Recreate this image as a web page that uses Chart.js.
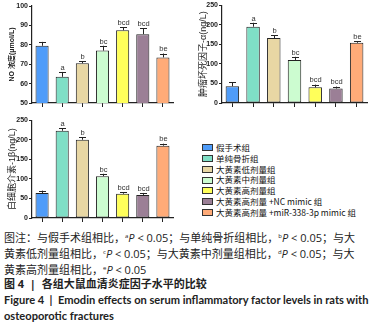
<!DOCTYPE html>
<html>
<head>
<meta charset="utf-8">
<script src="https://cdn.jsdelivr.net/npm/chart.js@4"></script>
<style>
  body { margin: 0; background: #fff; width: 378px; height: 329px; position: relative; overflow: hidden; }
  canvas { position: absolute; }
  #legend { position: absolute; left: 202px; top: 142px; font-family: "Noto Sans CJK SC", sans-serif; font-size: 8.5px; color: #111; }
  #legend div { height: 10.8px; line-height: 10.8px; white-space: nowrap; }
  #legend span.sw { display: inline-block; width: 9px; height: 5px; border: 1px solid #333; margin-right: 3px; vertical-align: middle; position: relative; top: -1px; }
  #caption { position: absolute; left: 4px; top: 228px; font-family: "Open Sans", "Noto Sans CJK SC", sans-serif; font-size: 11px; color: #222; }
  #caption div { height: 16px; line-height: 16px; white-space: nowrap; }
  #caption sup { font-size: 6px; vertical-align: 4px; }
  #caption .b { font-weight: bold; }
  #caption .en { font-family: Lato, "Open Sans", sans-serif; font-size: 11.1px; }
</style>
</head>
<body>
<canvas id="noChart" width="185" height="112" style="left:0;top:0"></canvas>
<canvas id="tnfChart" width="188" height="112" style="left:190px;top:0"></canvas>
<canvas id="ilChart" width="185" height="112" style="left:0;top:115px"></canvas>
<div id="legend"></div>
<div id="caption">
  <div>图注：与假手术组相比，<sup>a</sup><i>P</i> &lt; 0.05；与单纯骨折组相比，<sup>b</sup><i>P</i> &lt; 0.05；与大</div>
  <div>黄素低剂量组相比，<sup>c</sup><i>P</i> &lt; 0.05；与大黄素中剂量组相比，<sup>d</sup><i>P</i> &lt; 0.05；与大</div>
  <div>黄素高剂量组相比，<sup>e</sup><i>P</i> &lt; 0.05</div>
  <div class="b">图 4 &nbsp;|&nbsp; 各组大鼠血清炎症因子水平的比较</div>
  <div class="b en">Figure 4 &nbsp;|&nbsp; Emodin effects on serum inflammatory factor levels in rats with</div>
  <div class="b en">osteoporotic fractures</div>
</div>
<script>
const groups = ['假手术组', '单纯骨折组', '大黄素低剂量组', '大黄素中剂量组', '大黄素高剂量组', '大黄素高剂量 +NC mimic 组', '大黄素高剂量 +miR-338-3p mimic 组']
const colors = ['#4f9cf9', '#7fdfc6', '#e8d7a4', '#ccfcd0', '#ffff5a', '#9b7f96', '#ffab78']
const sigLabels = ['', 'a', 'b', 'bc', 'bcd', 'bcd', 'be']

const noValues = [79.5, 63.5, 70.5, 77, 87.5, 85.5, 73.5]
const noErr = [2, 2.5, 1, 2.5, 1.5, 3, 2]
const tnfValues = [43, 195, 166, 110, 40, 37, 154]
const tnfErr = [10, 10, 7, 8, 7, 5, 4]
const ilValues = [64, 223, 200, 107, 62, 59, 185]
const ilErr = [6, 7, 6, 6, 4, 5, 5]

// error bars (upper half only) plus the significance letters
const errorBars = {
  id: 'errorBars',
  afterDatasetsDraw(chart, args, opts) {
    const { ctx, scales: { y } } = chart
    const meta = chart.getDatasetMeta(0)
    ctx.save()
    ctx.strokeStyle = '#222'
    ctx.lineWidth = 1
    meta.data.forEach((bar, i) => {
      const v = chart.data.datasets[0].data[i]
      const top = y.getPixelForValue(v + opts.err[i])
      const x = Math.round(bar.x) + 0.5
      ctx.beginPath()
      ctx.moveTo(x, bar.y)
      ctx.lineTo(x, top)
      ctx.moveTo(x - 3.5, Math.round(top) + 0.5)
      ctx.lineTo(x + 3.5, Math.round(top) + 0.5)
      ctx.stroke()
      if (sigLabels[i]) {
        ctx.fillStyle = '#333'
        ctx.font = '7.5px Arial, "Liberation Sans"'
        ctx.textAlign = 'center'
        ctx.textBaseline = 'bottom'
        ctx.fillText(sigLabels[i], x, top - 0.5)
      }
    })
    ctx.restore()
  }
}

function makeChart(id, values, err, min, max, step, title, titleSize, titleWeight, titlePad, right, top) {
  return new Chart(document.getElementById(id), {
    type: 'bar',
    data: {
      labels: groups,
      datasets: [{
        data: values,
        backgroundColor: colors,
        borderColor: '#222',
        borderWidth: 1,
        borderSkipped: false,
        barPercentage: 0.65,
        categoryPercentage: 1
      }]
    },
    options: {
      responsive: false,
      devicePixelRatio: 1,
      animation: false,
      layout: { padding: { left: 0, right: right, top: top, bottom: 0 } },
      plugins: {
        legend: { display: false },
        tooltip: { enabled: false },
        errorBars: { err: err }
      },
      scales: {
        x: {
          grid: { drawOnChartArea: false, drawTicks: true, tickLength: 4, color: '#222', offset: false },
          border: { color: '#222', width: 1.2 },
          ticks: { display: false },
          afterFit: s => { s.height = 9 }
        },
        y: {
          min: min,
          max: max,
          grid: { drawOnChartArea: false, drawTicks: true, tickLength: 3, color: '#222' },
          border: { color: '#222', width: 1.2 },
          ticks: { stepSize: step, color: '#222', padding: 1, font: { size: 7, weight: 'bold', family: 'Arial, "Liberation Sans"' } },
          title: { display: true, text: title, color: '#222', padding: { top: titlePad, bottom: 0 }, font: { size: titleSize, weight: titleWeight, family: 'Arial, "Noto Sans CJK SC"' } },
          afterFit: s => { s.width = 32 }
        }
      }
    },
    plugins: [errorBars]
  })
}

makeChart('noChart', noValues, noErr, 50, 100, 10, 'NO 浓度(μmol/L)', 7, 'bold', 8, 12, 6)
makeChart('tnfChart', tnfValues, tnfErr, 0, 250, 50, '肿瘤坏死因子-α(ng/L)', 9, 'normal', 8, 11, 3)
makeChart('ilChart', ilValues, ilErr, 0, 250, 50, '白细胞介素-1β(ng/L)', 9, 'normal', 7, 12, 4)

const legend = document.getElementById('legend')
groups.forEach((g, i) => {
  const row = document.createElement('div')
  const sw = document.createElement('span')
  sw.className = 'sw'
  sw.style.background = colors[i]
  row.appendChild(sw)
  row.appendChild(document.createTextNode(g))
  legend.appendChild(row)
})
</script>
</body>
</html>
